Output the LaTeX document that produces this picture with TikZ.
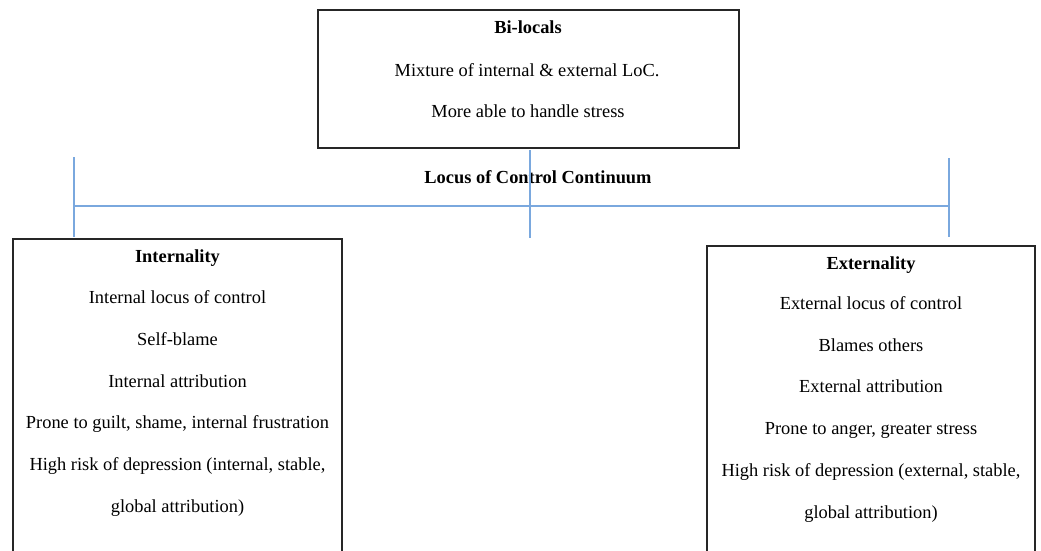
\documentclass[tikz,border=0pt]{standalone}
\usepackage{fontspec}
\setmainfont{Liberation Serif}
\definecolor{linkblue}{RGB}{122,168,222}
\begin{document}
\begin{tikzpicture}[x=1pt,y=-1pt,
  panel/.style={draw=black!85,line width=1.3pt,inner sep=0pt},
  txt/.style={font=\fontsize{18.4}{21}\selectfont,inner sep=0pt,anchor=base},
  head/.style={txt,font=\fontsize{18.4}{21}\selectfont\bfseries},
  link/.style={draw=linkblue,line width=1.5pt}]
\useasboundingbox (0,0) rectangle (1041,550);
\clip (0,0) rectangle (1041,550);

% boxes (the lower two run past the bottom edge)
\node[panel,minimum width=421pt,minimum height=138pt] (bil) at (528.5,79) {};
\node[panel,minimum width=329pt,minimum height=400pt] (int) at (177.5,439) {};
\node[panel,minimum width=328pt,minimum height=400pt] (ext) at (871,446) {};

% top box text
\node[head] (bt) at (528,33) {Bi-locals};
\node[txt] (b1) at (527,76) {Mixture of internal \& external LoC.};
\node[txt] (b2) at (528,117) {More able to handle stress};

% continuum label
\node[head] (cont) at (538,183) {Locus of Control Continuum};

% continuum lines
\coordinate (lt) at (74,157);
\coordinate (lb) at (74,237);
\coordinate (rt) at (949,158);
\coordinate (rb) at (949,237);
\coordinate (mt) at (530,150);
\coordinate (mb) at (530,238);
\coordinate (hl) at (74,206);
\coordinate (hr) at (949,206);
\draw[link] (lt) -- (lb);
\draw[link] (rt) -- (rb);
\draw[link] (mt) -- (mb);
\draw[link] (hl) -- (hr);

% internality
\node[head] (it) at (177.5,262) {Internality};
\node[txt] (i1) at (177.5,303) {Internal locus of control};
\node[txt] (i2) at (177.5,345) {Self-blame};
\node[txt] (i3) at (177.5,387) {Internal attribution};
\node[txt] (i4) at (177.5,428) {Prone to guilt, shame, internal frustration};
\node[txt] (i5) at (177.5,470) {High risk of depression (internal, stable,};
\node[txt] (i6) at (177.5,512) {global attribution)};

% externality
\node[head] (et) at (871,269) {Externality};
\node[txt] (e1) at (871,309) {External locus of control};
\node[txt] (e2) at (871,351) {Blames others};
\node[txt] (e3) at (871,392) {External attribution};
\node[txt] (e4) at (871,434) {Prone to anger, greater stress};
\node[txt] (e5) at (871,476) {High risk of depression (external, stable,};
\node[txt] (e6) at (871,518) {global attribution)};
\end{tikzpicture}
\end{document}
